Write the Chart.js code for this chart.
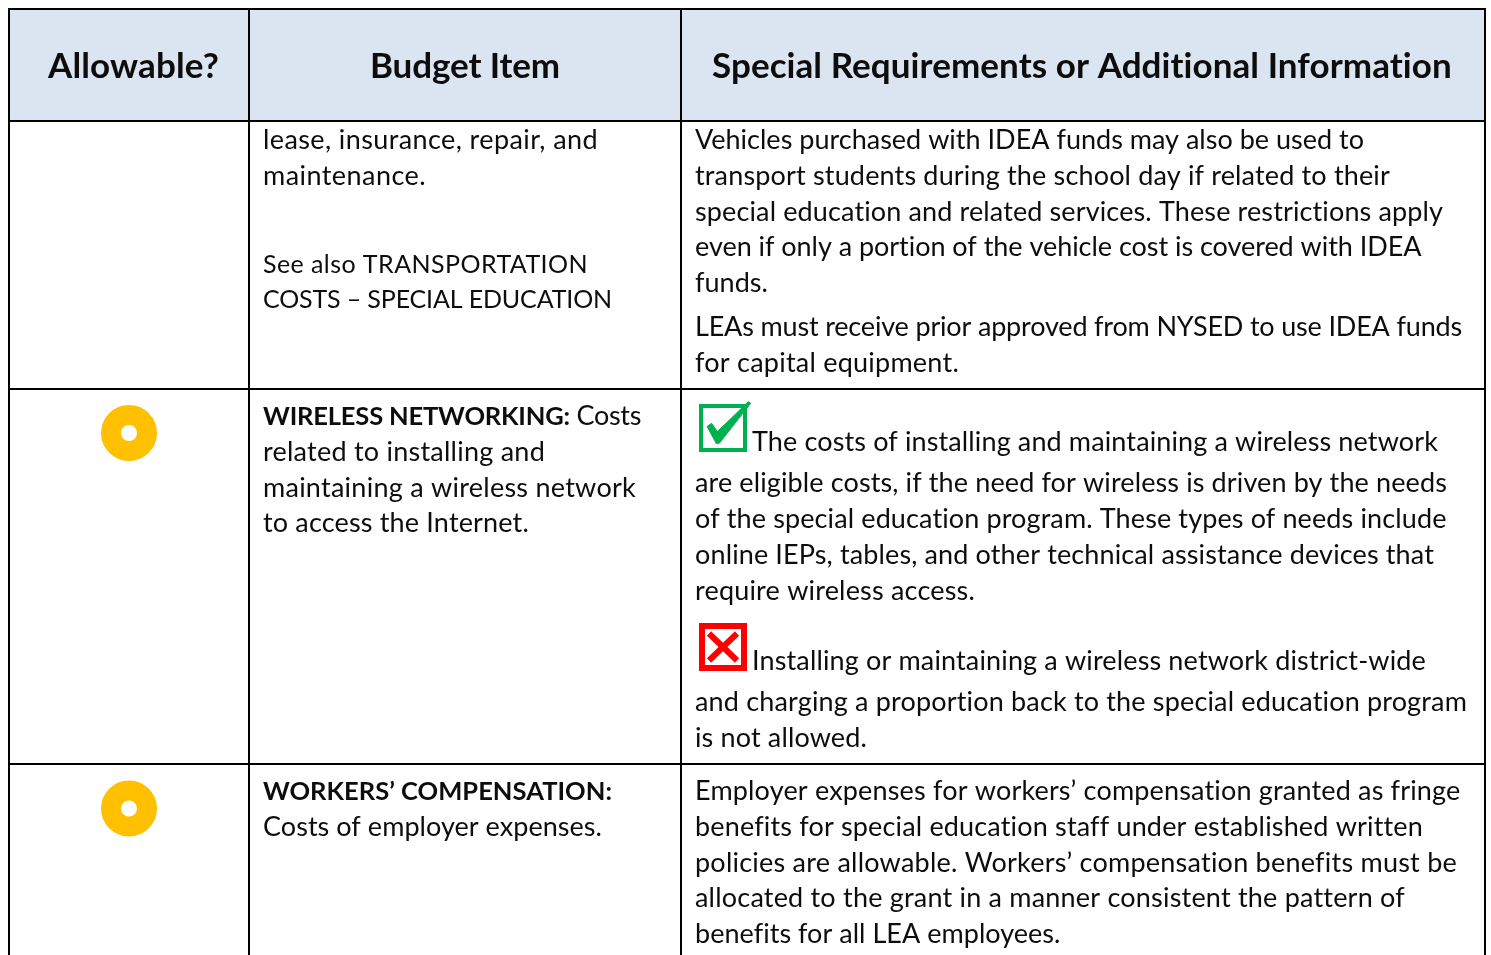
<!DOCTYPE html>
<html lang="en">
<head>
  <meta charset="UTF-8">
  <title>Budget items</title>
  <style>
    html, body { margin: 0; padding: 0; background: white; overflow: hidden; }
    canvas { display: block; }
  </style>
</head>
<body>
  <canvas id="table-chart" width="1491" height="955"></canvas>

  <script src="https://cdn.jsdelivr.net/npm/chart.js@4"></script>
  <script>
    const columnEdges = [9, 249, 681, 1485];
    const rowEdges = [9, 121, 389, 764];

    const headerLabels = ['Allowable?', 'Budget Item', 'Special Requirements or Additional Information'];
    const headerStarts = [48, 370, 712];
    const headerEnds = [219, 560, 1453];

    const budgetBold = ['', '', '', '', 'WIRELESS NETWORKING:', '', '', '', 'WORKERS\u2019 COMPENSATION:', ''];
    const budgetBoldEnds = [0, 0, 0, 0, 570, 0, 0, 0, 612, 0];
    const budgetLines = [
      'lease, insurance, repair, and',
      'maintenance.',
      'See also TRANSPORTATION',
      'COSTS \u2013 SPECIAL EDUCATION',
      ' Costs',
      'related to installing and',
      'maintaining a wireless network',
      'to access the Internet.',
      '',
      'Costs of employer expenses.'
    ];
    const budgetEnds = [598, 426, 588, 612, 641, 545, 636, 529, 0, 602];
    const budgetBaselines = [149, 185, 273, 308, 425, 461, 497, 532, 800, 836];
    const capsLines = [2, 3];

    const noteLines = [
      'Vehicles purchased with IDEA funds may also be used to',
      'transport students during the school day if related to their',
      'special education and related services. These restrictions apply',
      'even if only a portion of the vehicle cost is covered with IDEA',
      'funds.',
      'LEAs must receive prior approved from NYSED to use IDEA funds',
      'for capital equipment.',
      'The costs of installing and maintaining a wireless network',
      'are eligible costs, if the need for wireless is driven by the needs',
      'of the special education program. These types of needs include',
      'online IEPs, tables, and other technical assistance devices that',
      'require wireless access.',
      'Installing or maintaining a wireless network district-wide',
      'and charging a proportion back to the special education program',
      'is not allowed.',
      'Employer expenses for workers\u2019 compensation granted as fringe',
      'benefits for special education staff under established written',
      'policies are allowable. Workers\u2019 compensation benefits must be',
      'allocated to the grant in a manner consistent the pattern of',
      'benefits for all LEA employees.'
    ];
    const noteBaselines = [149, 185, 221, 256, 292, 336, 372, 451, 492, 528, 564, 600, 670, 711, 747, 800, 836, 872, 907, 943];
    const noteStarts = [695, 695, 695, 695, 695, 695, 695, 752, 695, 695, 695, 695, 752, 695, 695, 695, 695, 695, 695, 695];
    const noteEnds = [1364, 1390, 1444, 1422, 768, 1462, 959, 1438, 1447, 1447, 1434, 975, 1426, 1468, 867, 1461, 1421, 1457, 1404, 1060];

    const allowableX = [129, 129];
    const allowableY = [433, 808.5];

    const checkBoxX = [701, 745, 745, 701, 701];
    const checkBoxY = [406, 406, 450, 450, 406];
    const checkMarkX = [706.7, 711.7, 717.3, 748.3, 750.7, 719.3, 715.7];
    const checkMarkY = [426.7, 423.3, 431.7, 401.7, 403.3, 443.3, 443.3];

    const crossBoxX = [702, 744, 744, 702, 702];
    const crossBoxY = [626, 626, 668, 668, 626];
    const crossOneX = [709, 737];
    const crossOneY = [633.5, 660.5];
    const crossTwoX = [737, 709];
    const crossTwoY = [633.5, 660.5];

    function zipPoints(xs, ys) {
      return xs.map((x, i) => ({ x, y: ys[i] }));
    }

    function ruleDataset(xs, ys, color, width, cap = 'square') {
      return {
        data: zipPoints(xs, ys),
        showLine: true,
        fill: false,
        borderColor: color,
        borderWidth: width,
        borderCapStyle: cap,
        borderJoinStyle: 'miter',
        pointRadius: 0
      };
    }

    // Calibri is not installed, so stretch each Lato line to the width it has in the picture
    function fitText(ctx, text, left, right, py) {
      ctx.letterSpacing = '0px';
      const natural = ctx.measureText(text).width;
      ctx.letterSpacing = ((right - left - natural) / text.length) + 'px';
      ctx.fillText(text, left, py);
      ctx.letterSpacing = '0px';
    }

    const tableText = {
      id: 'tableText',
      afterDatasetsDraw(chart) {
        const { ctx, scales: { x, y } } = chart;
        ctx.save();
        ctx.fillStyle = '#0d0d0d';
        ctx.textBaseline = 'alphabetic';
        ctx.textAlign = 'left';

        ctx.font = 'bold 35px Lato';
        headerLabels.forEach((label, i) => {
          fitText(ctx, label, x.getPixelForValue(headerStarts[i]), x.getPixelForValue(headerEnds[i]), y.getPixelForValue(78));
        });

        budgetLines.forEach((line, i) => {
          let left = x.getPixelForValue(263);
          const py = y.getPixelForValue(budgetBaselines[i]);
          if (budgetBold[i]) {
            ctx.font = 'bold 25.5px Lato';
            fitText(ctx, budgetBold[i], left, x.getPixelForValue(budgetBoldEnds[i]), py);
            left = x.getPixelForValue(budgetBoldEnds[i]);
          }
          if (line) {
            ctx.font = capsLines.includes(i) ? '25px Lato' : '27px Lato';
            fitText(ctx, line, left, x.getPixelForValue(budgetEnds[i]), py);
          }
        });

        ctx.font = '27px Lato';
        noteLines.forEach((line, i) => {
          fitText(ctx, line, x.getPixelForValue(noteStarts[i]), x.getPixelForValue(noteEnds[i]), y.getPixelForValue(noteBaselines[i]));
        });
        ctx.restore();
      }
    };

    const datasets = [
      ...columnEdges.map(edge => ruleDataset([edge, edge], [rowEdges[0], 960], '#000', 2)),
      ...rowEdges.map(edge => ruleDataset([columnEdges[0], columnEdges[3]], [edge, edge], '#000', 2)),
      {
        data: zipPoints(allowableX, allowableY),
        pointStyle: 'circle',
        pointRadius: 18,
        borderWidth: 20,
        borderColor: '#ffc000',
        backgroundColor: '#fff'
      },
      {
        data: zipPoints(checkMarkX, checkMarkY),
        showLine: true,
        fill: 'shape',
        backgroundColor: '#00b050',
        borderColor: '#00b050',
        borderWidth: 1,
        pointRadius: 0
      },
      ruleDataset(checkBoxX, checkBoxY, '#00b050', 4),
      ruleDataset(crossOneX, crossOneY, '#ff0000', 6, 'butt'),
      ruleDataset(crossTwoX, crossTwoY, '#ff0000', 6, 'butt'),
      ruleDataset(crossBoxX, crossBoxY, '#ff0000', 6),
      // header band, filled down to the first row edge; drawn last in the list so it sits under the rules
      {
        data: zipPoints([columnEdges[0], columnEdges[3]], [rowEdges[0], rowEdges[0]]),
        showLine: true,
        fill: { value: rowEdges[1] },
        backgroundColor: '#dae5f1',
        borderWidth: 0,
        pointRadius: 0
      }
    ];

    new Chart(document.getElementById('table-chart'), {
      type: 'scatter',
      data: { datasets },
      plugins: [tableText],
      options: {
        responsive: false,
        animation: false,
        layout: { padding: 0, autoPadding: false },
        plugins: { legend: { display: false }, tooltip: { enabled: false } },
        scales: {
          x: { type: 'linear', min: 0, max: 1491, display: false },
          y: { type: 'linear', min: 0, max: 955, reverse: true, display: false }
        }
      }
    });
  </script>
</body>
</html>
